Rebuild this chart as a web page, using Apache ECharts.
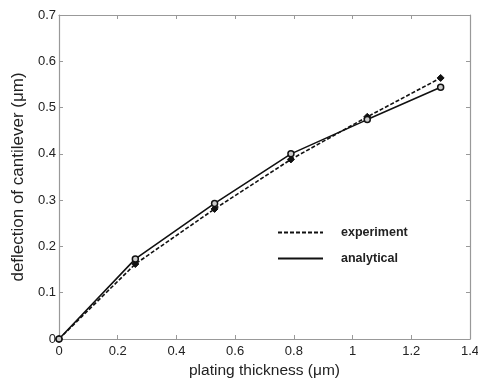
<!DOCTYPE html>
<html><head><meta charset="utf-8">
<script src="https://cdn.jsdelivr.net/npm/echarts@6/dist/echarts.min.js"></script>
<style>html,body{margin:0;padding:0;background:#fff}#c{width:478px;height:381px}</style>
</head><body><div id="c"></div>
<script>
const thickness = [0, 0.26, 0.53, 0.79, 1.05, 1.3];
const experiment = [0, 0.162, 0.281, 0.388, 0.48, 0.564];
const analytical = [0, 0.173, 0.293, 0.400, 0.474, 0.544];
const xTicks = [0, 0.2, 0.4, 0.6, 0.8, 1, 1.2, 1.4];
const yTicks = [0, 0.1, 0.2, 0.3, 0.4, 0.5, 0.6, 0.7];

const font = 'Liberation Sans, Arial, sans-serif';
const axisCol = '#999999';
const chart = echarts.init(document.getElementById('c'));
const pair = (xs, ys) => xs.map((x, i) => [x, ys[i]]);
const fmt = v => (Math.round(v * 10) / 10).toString();
const baseAxis = {
  type: 'value', min: 0, interval: 0.2,
  axisLine: { show: true, onZero: false, lineStyle: { color: axisCol, width: 1.2 } },
  axisTick: { show: true, inside: true, length: 4, lineStyle: { color: axisCol } },
  splitLine: { show: false }
};
chart.setOption({
  animation: false,
  grid: { left: 59, right: 8, top: 15, bottom: 42, outerBoundsMode: 'none', containLabel: false },
  xAxis: [
    Object.assign({}, baseAxis, { max: 1.4, position: 'bottom',
      axisLabel: { color: '#222', fontSize: 13, fontFamily: font, margin: 6, formatter: fmt },
      name: 'plating thickness (\u03bcm)', nameLocation: 'middle', nameGap: 24,
      nameTextStyle: { color: '#222', fontSize: 15.5, fontFamily: font } }),
    Object.assign({}, baseAxis, { max: 1.4, position: 'top', axisLabel: { show: false } })
  ],
  yAxis: [
    Object.assign({}, baseAxis, { max: 0.7, interval: 0.1, position: 'left',
      axisLabel: { color: '#222', fontSize: 13, fontFamily: font, margin: 3, formatter: fmt },
      name: 'deflection of cantilever (\u03bcm)', nameLocation: 'middle', nameGap: 23,
      nameTextStyle: { color: '#222', fontSize: 17, fontFamily: font } }),
    Object.assign({}, baseAxis, { max: 0.7, interval: 0.1, position: 'right', axisLabel: { show: false } })
  ],
  legend: {
    orient: 'vertical', left: 272, top: 221, itemWidth: 45, itemHeight: 14, itemGap: 13,
    textStyle: { color: '#222', fontSize: 12.5, fontWeight: 'bold', fontFamily: font, padding: [0, 0, 0, 13] },
    itemStyle: { opacity: 0 },
    data: ['experiment', 'analytical']
  },
  series: [
    { name: 'experiment', type: 'line', data: pair(thickness, experiment),
      symbol: 'diamond', symbolSize: 7,
      itemStyle: { color: '#111', borderColor: '#111' },
      lineStyle: { color: '#111', width: 1.6, type: [4, 2] } },
    { name: 'analytical', type: 'line', data: pair(thickness, analytical),
      symbol: 'circle', symbolSize: 6,
      itemStyle: { color: '#ccc', borderColor: '#111', borderWidth: 1.5 },
      lineStyle: { color: '#111', width: 1.6 } }
  ]
});
</script></body></html>
